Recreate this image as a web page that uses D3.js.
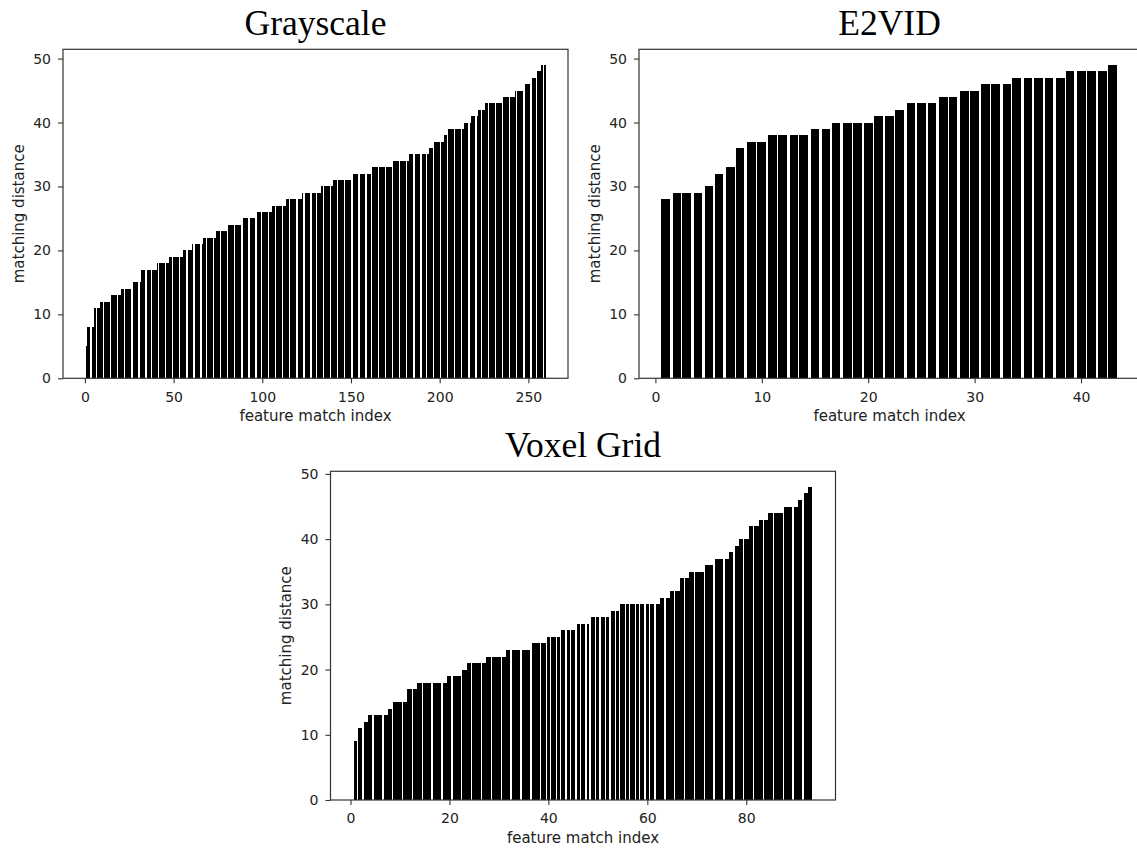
<!DOCTYPE html>
<html>
<head>
<meta charset="utf-8">
<script src="https://cdn.jsdelivr.net/npm/d3@7"></script>
<style>
  html, body { margin: 0; padding: 0; background: #ffffff; }
  svg { display: block; }
</style>
</head>
<body>
<svg id="chart" width="1137" height="850"></svg>
<script>
// ---------------- DATA ----------------
const titles = ["Grayscale", "E2VID", "Voxel Grid"];
const xAxisLabel = "feature match index";
const yAxisLabel = "matching distance";

const grayscaleDistances = [
  5, 8,8,8,8, 11,11,11, 12,12,12,12,12,12, 13,13,13,13,13,13, 14,14,14,14,14,14,
  15,15,15,15,15, 17,17,17,17,17,17,17,17,17, 18,18,18,18,18,18,18,
  19,19,19,19,19,19,19,19, 20,20,20,20,20, 21,21,21,21,21,21, 22,22,22,22,22,22,22,
  23,23,23,23,23,23,23, 24,24,24,24,24,24,24,24, 25,25,25,25,25,25,25,25,
  26,26,26,26,26,26,26,26,26, 27,27,27,27,27,27,27,27, 28,28,28,28,28,28,28,28,28,
  29,29,29,29,29,29,29,29,29,29,29, 30,30,30,30,30,30, 31,31,31,31,31,31,31,31,31,31,31,
  32,32,32,32,32,32,32,32,32,32,32, 33,33,33,33,33,33,33,33,33,33,33,33,
  34,34,34,34,34,34,34,34,34, 35,35,35,35,35,35,35,35,35,35,35, 36,36,36,
  37,37,37,37,37,37, 38,38, 39,39,39,39,39,39,39,39,39, 40,40,40,40, 41,41,41,41,
  42,42,42,42, 43,43,43,43,43,43,43,43,43,43, 44,44,44,44,44,44,44, 45,45,45,45,45,
  46,46,46,46, 47,47,47, 48,48,48, 49,49
];

const e2vidDistances = [
  28,29,29,29,30,32,33,36,37,37,38,38,38,38,39,39,40,40,40,40,41,41,
  42,43,43,43,44,44,45,45,46,46,46,47,47,47,47,47,48,48,48,48,49
];

const voxelDistances = [
  9, 11, 12, 13,13,13,13, 14, 15,15,15, 17,17, 18,18,18,18,18,18, 19,19,19, 20,
  21,21,21,21, 22,22,22,22, 23,23,23,23,23, 24,24,24, 25,25,25, 26,26,26, 27,27,27,
  28,28,28,28, 29,29, 30,30,30,30,30,30,30,30, 31,31, 32,32, 34,34, 35,35,35, 36,36,
  37,37,37, 38, 39, 40,40, 42,42, 43,43, 44,44,44, 45,45,45, 46, 47, 48
];

const grayscaleXTicks = [0, 50, 100, 150, 200, 250];
const e2vidXTicks = [0, 10, 20, 30, 40];
const voxelXTicks = [0, 20, 40, 60, 80];
const yTicks = [0, 10, 20, 30, 40, 50];

// ---------------- LAYOUT ----------------
const panels = [
  { title: titles[0], values: grayscaleDistances, xTicks: grayscaleXTicks,
    left: 63, top: 49.3, width: 505, height: 329 },
  { title: titles[1], values: e2vidDistances, xTicks: e2vidXTicks,
    left: 639, top: 49.3, width: 501, height: 329 },
  { title: titles[2], values: voxelDistances, xTicks: voxelXTicks,
    left: 330.5, top: 471.3, width: 505, height: 328.7 }
];

const svg = d3.select("#chart");
const textColor = "#222222";
const lineColor = "#333333";
const tickFont = "DejaVu Sans, sans-serif";
// the source figure was rasterised on a coarser pixel grid (then enlarged):
// bar edges snap to that grid, which is what merges some neighbouring bars
const srcPixel = 1.41;
const snap = v => Math.round(v / srcPixel) * srcPixel;

function drawPanel(p) {
  const n = p.values.length;
  const barW = 0.8;
  // matplotlib-like auto limits: 5% margins on x, 5% headroom on y
  const x0 = 1 - barW / 2, x1 = n + barW / 2;
  const mx = (x1 - x0) * 0.05;
  const x = d3.scaleLinear().domain([x0 - mx, x1 + mx]).range([p.left, p.left + p.width]);
  const yMax = d3.max(p.values) * 1.05;
  const y = d3.scaleLinear().domain([0, yMax]).range([p.top + p.height, p.top]);

  const g = svg.append("g");

  const clipId = "clip" + Math.round(p.left);
  svg.append("clipPath").attr("id", clipId)
    .append("rect").attr("x", p.left).attr("y", p.top).attr("width", p.width).attr("height", p.height);

  // bars
  g.append("g").attr("clip-path", `url(#${clipId})`)
    .selectAll("rect").data(p.values).join("rect")
    .attr("x", (d, i) => snap(x(i + 1 - barW / 2)))
    .attr("width", (d, i) => snap(x(i + 1 + barW / 2)) - snap(x(i + 1 - barW / 2)))
    .attr("y", d => y(d))
    .attr("height", d => y(0) - y(d))
    .attr("fill", "#000")
    .attr("shape-rendering", "crispEdges");

  // frame
  g.append("rect")
    .attr("x", p.left).attr("y", p.top).attr("width", p.width).attr("height", p.height)
    .attr("fill", "none").attr("stroke", lineColor).attr("stroke-width", 1.2);

  // x axis
  const xAxis = d3.axisBottom(x).tickValues(p.xTicks).tickSize(5).tickPadding(8.5).tickFormat(d3.format("d"));
  const gx = g.append("g").attr("transform", `translate(0,${p.top + p.height})`).call(xAxis);
  gx.select(".domain").remove();
  gx.selectAll(".tick line").attr("stroke", lineColor).attr("stroke-width", 1.1);
  gx.selectAll(".tick text").attr("fill", textColor).attr("font-family", tickFont).attr("font-size", 14);

  // y axis
  const yAxis = d3.axisLeft(y).tickValues(yTicks).tickSize(5).tickPadding(7).tickFormat(d3.format("d"));
  const gy = g.append("g").attr("transform", `translate(${p.left},0)`).call(yAxis);
  gy.select(".domain").remove();
  gy.selectAll(".tick line").attr("stroke", lineColor).attr("stroke-width", 1.1);
  gy.selectAll(".tick text").attr("fill", textColor).attr("font-family", tickFont).attr("font-size", 14);

  // axis labels
  g.append("text")
    .attr("x", x((x0 + x1) / 2))
    .attr("y", p.top + p.height + 43)
    .attr("text-anchor", "middle")
    .attr("font-family", tickFont).attr("font-size", 15).attr("fill", textColor)
    .text(xAxisLabel);

  g.append("text")
    .attr("transform", `translate(${p.left - 39.5},${p.top + p.height / 2}) rotate(-90)`)
    .attr("text-anchor", "middle")
    .attr("font-family", tickFont).attr("font-size", 15).attr("fill", textColor)
    .text(yAxisLabel);

  // title
  g.append("text")
    .attr("x", p.left + p.width / 2)
    .attr("y", p.top - 14)
    .attr("text-anchor", "middle")
    .attr("font-family", "Liberation Serif, Times New Roman, serif")
    .attr("font-size", 35.5).attr("fill", "#000")
    .text(p.title);
}

panels.forEach(drawPanel);
</script>
</body>
</html>
